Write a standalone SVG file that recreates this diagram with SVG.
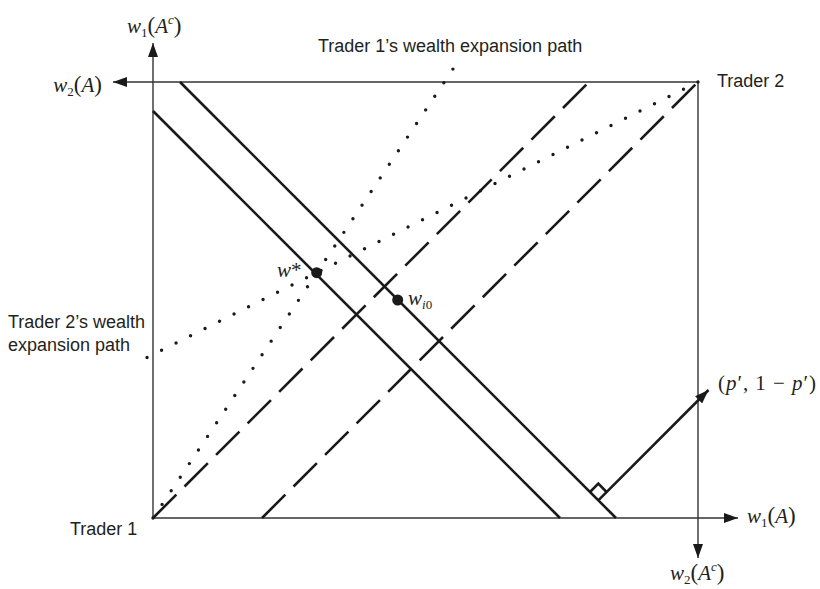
<svg xmlns="http://www.w3.org/2000/svg" width="820" height="589" viewBox="0 0 820 589">
<defs>
<marker id="ah" markerWidth="14" markerHeight="10" refX="14" refY="5" orient="auto" markerUnits="userSpaceOnUse"><path d="M0,0 L14,5 L0,10 Z" fill="#1a1a1a"/></marker>
</defs>
<style>
.axis{stroke:#333;stroke-width:1.4;fill:none}
.solid{stroke:#1a1a1a;stroke-width:2.6;fill:none}
.dash{stroke:#1a1a1a;stroke-width:2.6;stroke-dasharray:33 11.6;fill:none}
.dot{stroke:#1a1a1a;stroke-width:3.4;stroke-linecap:round;fill:none}
.lab{font-family:"Liberation Sans",Arial,sans-serif;font-size:18px;fill:#231f20}
.math{font-family:"Liberation Serif","Times New Roman",serif;font-size:21px;fill:#231f20}
.it{font-style:italic}
.sub{font-size:13px}
.par{font-size:23px}
</style>
<rect width="820" height="589" fill="#fff"/>
<g id="axes">
<path class="axis" d="M698,82 L113,82" marker-end="url(#ah)"/>
<path class="axis" d="M153,518 L153,43" marker-end="url(#ah)"/>
<path class="axis" d="M153,518 L738,518" marker-end="url(#ah)"/>
<path class="axis" d="M698,82 L698,558" marker-end="url(#ah)"/>
</g>
<g id="connectors">
<path class="solid" d="M153,111 L560,518"/>
<path class="solid" d="M180,82 L616,518"/>
<path class="dash" d="M153,518 L589,82"/>
<path class="dash" d="M262,518 L698,82"/>
<path class="dot" style="stroke-dasharray:0 16.36" d="M153,518 L453,69"/>
<path class="dot" style="stroke-dasharray:0 16.21" d="M698,82 L147,357.5"/>
<path class="solid" d="M590,492 L598.3,483.7 L606.6,492"/>
<path class="solid" d="M598.3,500.3 L708.5,390" marker-end="url(#ah)"/>
</g>
<g id="points">
<circle cx="316.7" cy="272.7" r="5.5" fill="#1a1a1a"/>
<circle cx="397.7" cy="300" r="5.5" fill="#1a1a1a"/>
</g>
<g id="labels">
<text class="lab" x="318" y="52">Trader 1’s wealth expansion path</text>
<text class="lab" x="717" y="87">Trader 2</text>
<text class="lab" x="70" y="535">Trader 1</text>
<text class="lab" x="8" y="328">Trader 2’s wealth</text>
<text class="lab" x="8" y="351">expansion path</text>
<text class="math" x="127" y="33"><tspan class="it">w</tspan><tspan class="sub" dy="4">1</tspan><tspan class="par" dy="-4">(</tspan><tspan class="it">A</tspan><tspan class="sub it" dy="-9">c</tspan><tspan class="par" dy="9">)</tspan></text>
<text class="math" x="102" y="92" text-anchor="end"><tspan class="it">w</tspan><tspan class="sub" dy="4">2</tspan><tspan class="par" dy="-4">(</tspan><tspan class="it">A</tspan><tspan class="par">)</tspan></text>
<text class="math" x="747" y="523"><tspan class="it">w</tspan><tspan class="sub" dy="4">1</tspan><tspan class="par" dy="-4">(</tspan><tspan class="it">A</tspan><tspan class="par">)</tspan></text>
<text class="math" x="670" y="580"><tspan class="it">w</tspan><tspan class="sub" dy="4">2</tspan><tspan class="par" dy="-4">(</tspan><tspan class="it">A</tspan><tspan class="sub it" dy="-9">c</tspan><tspan class="par" dy="9">)</tspan></text>
<text class="math" x="277" y="277"><tspan class="it">w</tspan>*</text>
<text class="math" x="408" y="305"><tspan class="it">w</tspan><tspan class="sub it" dy="4">i</tspan><tspan class="sub">0</tspan></text>
<text class="math" x="718" y="390" textLength="98" lengthAdjust="spacing">(<tspan class="it">p</tspan>′, 1 − <tspan class="it">p</tspan>′)</text>
</g>
</svg>
